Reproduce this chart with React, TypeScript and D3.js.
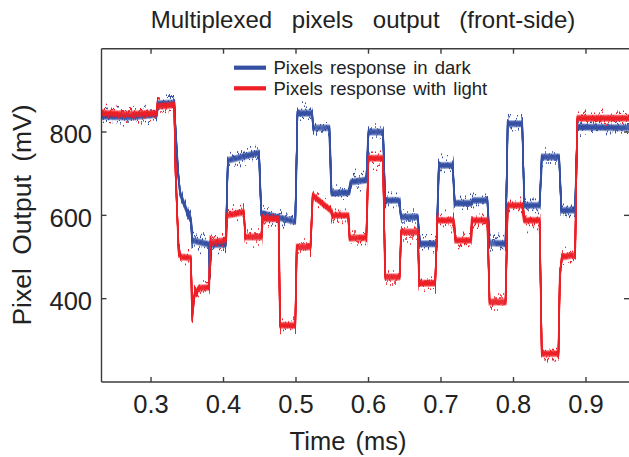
import React from "react";
import * as d3 from "d3";

// ---- data (time in ms, output in mV) ----
const darkResponse: [number, number][] = [
  [0.2317, 838], [0.270, 836], [0.308, 842], [0.309, 868], [0.332, 870],
  [0.334, 800], [0.337, 710], [0.340, 653], [0.349, 612], [0.355, 590],
  [0.357, 540], [0.380, 530], [0.381, 452], [0.383, 530], [0.403, 530],
  [0.406, 732], [0.449, 750], [0.452, 605], [0.499, 585], [0.502, 845],
  [0.522, 845], [0.524, 810], [0.546, 810], [0.549, 653], [0.573, 655],
  [0.576, 680], [0.597, 685], [0.600, 800], [0.620, 800], [0.623, 636],
  [0.642, 636], [0.645, 596], [0.668, 596], [0.671, 532], [0.694, 532],
  [0.697, 720], [0.716, 720], [0.719, 629], [0.742, 629], [0.744, 636],
  [0.764, 636], [0.767, 534], [0.789, 532], [0.792, 820], [0.812, 820],
  [0.815, 624], [0.836, 624], [0.839, 740], [0.863, 740], [0.866, 612],
  [0.885, 612], [0.888, 812], [0.9607, 810],
];

const lightResponse: [number, number][] = [
  [0.2317, 845], [0.270, 843], [0.308, 845], [0.309, 862], [0.332, 865],
  [0.334, 700], [0.338, 520], [0.341, 500], [0.355, 498], [0.357, 358],
  [0.360, 410], [0.366, 425], [0.380, 427], [0.382, 535], [0.403, 540],
  [0.405, 600], [0.428, 608], [0.430, 548], [0.452, 548], [0.454, 592],
  [0.476, 592], [0.478, 336], [0.499, 336], [0.501, 524], [0.520, 524],
  [0.523, 648], [0.548, 612], [0.550, 600], [0.572, 600], [0.574, 545],
  [0.597, 547], [0.600, 737], [0.620, 737], [0.623, 452], [0.643, 452],
  [0.645, 560], [0.668, 560], [0.670, 437], [0.692, 437], [0.695, 588],
  [0.717, 588], [0.720, 540], [0.741, 540], [0.743, 588], [0.764, 588],
  [0.767, 392], [0.789, 392], [0.792, 624], [0.812, 624], [0.815, 588],
  [0.836, 588], [0.839, 268], [0.862, 268], [0.864, 460], [0.867, 500],
  [0.885, 505], [0.888, 833], [0.9607, 833],
];

const xTicks = [0.3, 0.4, 0.5, 0.6, 0.7, 0.8, 0.9];
const yTicks = [400, 600, 800];
const seriesNames = ["Pixels response in dark", "Pixels response with light"];
const seriesColors = ["#3550a3", "#ec1f27"];
const titleText = "Multiplexed pixels output (front-side)";
const xTitle = "Time (ms)";
const yTitle = "Pixel Output (mV)";

const W = 629;
const H = 457;
const L = 101.5, R = 630, T = 48.7, B = 382;
const FONT = "'Liberation Sans', Arial, Helvetica, sans-serif";
const AXIS = "#3c3c3c";
// vertical offsets used to give the traces the height of the noise band
const BAND = [-3, -2, -1, 0, 1, 2, 3];

export default function App() {
  const x = d3.scaleLinear().domain([0.2317, 0.9607]).range([L, R]);
  const y = d3.scaleLinear().domain([200, 1000]).range([B, T]);
  const line = d3
    .line<[number, number]>()
    .x((d) => x(d[0]))
    .y((d) => y(d[1]));
  const series = [darkResponse, lightResponse];
  const seeds = [[7, 31], [19, 53]];

  return (
    <svg
      width={W}
      height={H}
      viewBox={`0 0 ${W} ${H}`}
      style={{ position: "absolute", left: 0, top: 0, background: "#fff" }}
    >
      <defs>
        <clipPath id="plotClip">
          <rect x={L} y={T} width={R - L} height={B - T} />
        </clipPath>
        {seeds.flat().map((seed) => (
          <filter
            key={seed}
            id={`jitter${seed}`}
            filterUnits="userSpaceOnUse"
            x={L - 10}
            y={T - 30}
            width={R - L + 20}
            height={B - T + 60}
            colorInterpolationFilters="sRGB"
          >
            <feTurbulence
              type="fractalNoise"
              baseFrequency="0.6 0.015"
              numOctaves={2}
              seed={seed}
              result="turb"
            />
            <feColorMatrix
              in="turb"
              type="matrix"
              values="0 0 0 0 0.5  0 1 0 0 0  0 0 0 0 0  0 0 0 0 1"
              result="disp"
            />
            <feDisplacementMap
              in="SourceGraphic"
              in2="disp"
              scale={34}
              xChannelSelector="R"
              yChannelSelector="G"
            />
          </filter>
        ))}
      </defs>

      {/* title */}
      <text
        x={363}
        y={28.3}
        textAnchor="middle"
        fontFamily={FONT}
        fontSize={24}
        wordSpacing={13}
        fill="#222"
      >
        {titleText}
      </text>

      {/* data lines */}
      <g clipPath="url(#plotClip)">
        {series.map((s, i) => {
          const d = line(s) || "";
          return (
            <g key={i} stroke={seriesColors[i]} fill="none" strokeLinejoin="round">
              {BAND.map((dy) => (
                <path
                  key={`b${dy}`}
                  d={d}
                  transform={`translate(0,${dy})`}
                  strokeWidth={1.4}
                  strokeOpacity={Math.abs(dy) === 3 ? 0.45 : Math.abs(dy) === 2 ? 0.8 : 1}
                />
              ))}
              {seeds[i].map((seed) => (
                <path
                  key={seed}
                  d={d}
                  strokeWidth={1.6}
                  filter={`url(#jitter${seed})`}
                />
              ))}
            </g>
          );
        })}
      </g>

      {/* axes frame */}
      <g stroke={AXIS} strokeWidth={1.4} fill="none">
        <line x1={L} y1={T} x2={R} y2={T} />
        <line x1={L} y1={T} x2={L} y2={B} />
        <line x1={L} y1={B} x2={R} y2={B} />
        <line x1={R} y1={T} x2={R} y2={B} />
        {xTicks.map((t) => (
          <g key={t}>
            <line x1={x(t)} x2={x(t)} y1={B} y2={B - 5} />
            <line x1={x(t)} x2={x(t)} y1={T} y2={T + 5} />
          </g>
        ))}
        {yTicks.map((v) => (
          <g key={v}>
            <line x1={L} x2={L + 5} y1={y(v)} y2={y(v)} />
            <line x1={R - 1} x2={R - 6} y1={y(v)} y2={y(v)} />
          </g>
        ))}
      </g>

      {/* tick labels */}
      <g fontFamily={FONT} fontSize={25.5} fill="#222">
        {xTicks.map((t) => (
          <text key={t} x={x(t)} y={413.3} textAnchor="middle">
            {t.toFixed(1)}
          </text>
        ))}
        {yTicks.map((v) => (
          <text key={v} x={92} y={y(v) + 11.4} textAnchor="end">
            {v}
          </text>
        ))}
      </g>

      {/* axis titles */}
      <text
        x={348}
        y={450}
        textAnchor="middle"
        fontFamily={FONT}
        fontSize={25.5}
        wordSpacing={3}
        fill="#222"
      >
        {xTitle}
      </text>
      <text
        transform={`translate(31,215) rotate(-90)`}
        textAnchor="middle"
        fontFamily={FONT}
        fontSize={26.5}
        wordSpacing={6}
        fill="#222"
      >
        {yTitle}
      </text>

      {/* legend */}
      <g fontFamily={FONT} fontSize={18.5} fill="#222">
        {seriesNames.map((name, i) => (
          <g key={name}>
            <line
              x1={234}
              x2={266}
              y1={67.7 + i * 20.6}
              y2={67.7 + i * 20.6}
              stroke={seriesColors[i]}
              strokeWidth={4.2}
            />
            <text x={273.5} y={74.3 + i * 20.3} wordSpacing={2}>
              {name}
            </text>
          </g>
        ))}
      </g>
    </svg>
  );
}
